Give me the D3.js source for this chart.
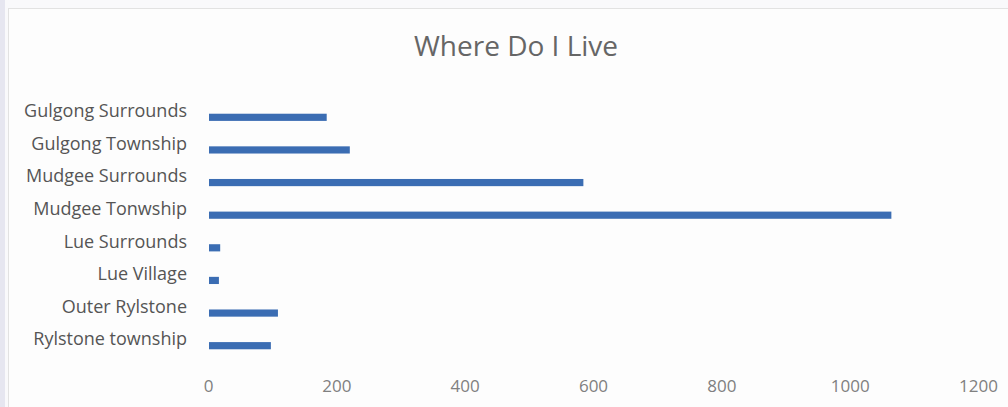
<!DOCTYPE html>
<html><head><meta charset="utf-8">
<script src="https://cdn.jsdelivr.net/npm/d3@7"></script>
<style>
html,body{margin:0;padding:0;background:#f9f9fb;}
svg{display:block;}
</style></head>
<body>
<script>
const categories = ["Gulgong Surrounds","Gulgong Township","Mudgee Surrounds","Mudgee Tonwship","Lue Surrounds","Lue Village","Outer Rylstone","Rylstone township"];
const values = [185, 221, 585, 1065, 19, 17, 109, 98];
const tickValues = [0, 200, 400, 600, 800, 1000, 1200];
const title = "Where Do I Live";

const W = 1008, H = 407;
const svg = d3.select("body").append("svg").attr("width", W).attr("height", H);
svg.append("rect").attr("x",0).attr("y",0).attr("width",W).attr("height",H).attr("fill","#f9f9fb");
svg.append("rect").attr("x",0).attr("y",0).attr("width",5).attr("height",H).attr("fill","#e6e6f0");
svg.append("rect").attr("x",8.5).attr("y",8.5).attr("width",W+20).attr("height",H+20)
  .attr("fill","#fdfdfd").attr("stroke","#e2e2e2");

const x = d3.scaleLinear().domain([0,1200]).range([208, 978]);
const y = d3.scaleBand().domain(categories).range([101, 362]).paddingInner(0.78).paddingOuter(0.39);

svg.append("text").attr("x",516).attr("y",56).attr("text-anchor","middle")
  .attr("font-family","Open Sans").attr("font-size",28).attr("fill","#666")
  .text(title);

svg.append("g").selectAll("rect").data(values).join("rect")
  .attr("x", x(0)+1).attr("y",(d,i)=>y(categories[i]))
  .attr("width", d=>x(d)-x(0)-1).attr("height", y.bandwidth())
  .attr("fill","#3b6db3");

const yAxis = svg.append("g").attr("transform",`translate(${x(0)},-6)`)
  .call(d3.axisLeft(y).tickSize(0).tickPadding(21));
yAxis.select(".domain").remove();
yAxis.selectAll("text").attr("font-family","Open Sans").attr("font-size",18).attr("fill","#555");

const xAxis = svg.append("g").attr("transform",`translate(0,372)`)
  .call(d3.axisBottom(x).tickValues(tickValues).tickSize(0).tickPadding(8).tickFormat(d3.format("d")));
xAxis.select(".domain").remove();
xAxis.selectAll("text").attr("font-family","Open Sans").attr("font-size",17).attr("fill","#808080");
</script>
</body></html>
